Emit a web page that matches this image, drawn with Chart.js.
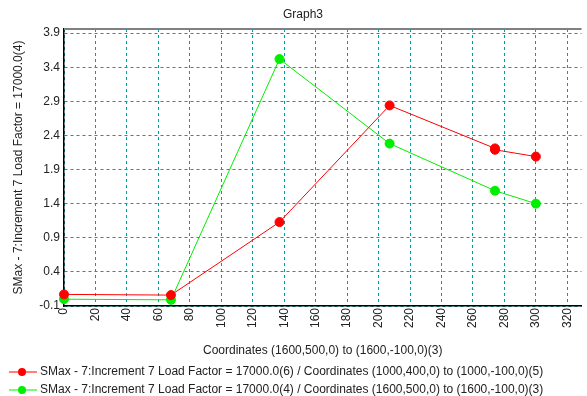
<!DOCTYPE html>
<html>
<head>
<meta charset="utf-8">
<script src="https://cdn.jsdelivr.net/npm/chart.js@4.4.1/dist/chart.umd.min.js"></script>
<style>
  html, body { margin: 0; padding: 0; background: #fff; }
  #wrap { width: 587px; height: 396px; position: relative; }
</style>
</head>
<body>
<div id="wrap"><canvas id="graph"></canvas></div>
<script>
// Data
const redX = [0, 68, 137, 207, 274, 274, 300];
const redY = [0.07, 0.06, 1.13, 2.84, 2.21, 2.19, 2.09];
const greenX = [0, 68, 137, 207, 274, 300];
const greenY = [0.0, -0.01, 3.52, 2.28, 1.59, 1.40];
const xTicks = [0, 20, 40, 60, 80, 100, 120, 140, 160, 180, 200, 220, 240, 260, 280, 300, 320];
const yTicks = [-0.1, 0.4, 0.9, 1.4, 1.9, 2.4, 2.9, 3.4, 3.9];
const seriesNames = [
    'SMax - 7:Increment 7 Load Factor = 17000.0(6) / Coordinates (1000,400,0) to (1000,-100,0)(5)',
    'SMax - 7:Increment 7 Load Factor = 17000.0(4) / Coordinates (1600,500,0) to (1600,-100,0)(3)'
];
const seriesColors = ['#ff0000', '#00ee00'];
const chartTitle = 'Graph3';
const xTitle = 'Coordinates (1600,500,0) to (1600,-100,0)(3)';
const yTitle = 'SMax - 7:Increment 7 Load Factor = 17000.0(4)';
const gridColor = '#00a0a0';

function toPoints(xs, ys) {
    return xs.map((x, i) => ({ x: x, y: ys[i] }));
}

Chart.defaults.font.family = 'Arial, "Liberation Sans", sans-serif';
Chart.defaults.font.size = 12;
Chart.defaults.color = '#222';

// Title, top border and legend drawn on the canvas
const extrasPlugin = {
    id: 'extras',
    afterDraw(chart) {
        const ctx = chart.ctx;
        const area = chart.chartArea;
        ctx.save();
        // top border
        ctx.strokeStyle = '#808080';
        ctx.lineWidth = 2;
        ctx.beginPath();
        ctx.moveTo(area.left, area.top);
        ctx.lineTo(area.right, area.top);
        ctx.stroke();
        // title
        ctx.fillStyle = '#222';
        ctx.font = '12px Arial, "Liberation Sans", sans-serif';
        ctx.textAlign = 'center';
        ctx.textBaseline = 'middle';
        ctx.fillText(chartTitle, 303, 15);
        // legend
        ctx.textAlign = 'left';
        seriesNames.forEach((name, i) => {
            const y = 372 + i * 18;
            ctx.strokeStyle = seriesColors[i];
            ctx.lineWidth = 1;
            ctx.beginPath();
            ctx.moveTo(9, y);
            ctx.lineTo(37, y);
            ctx.stroke();
            ctx.fillStyle = seriesColors[i];
            ctx.beginPath();
            ctx.arc(22, y, 4, 0, Math.PI * 2);
            ctx.fill();
            ctx.fillStyle = '#222';
            ctx.fillText(name, 40, y);
        });
        ctx.restore();
    }
};

const chart = new Chart(document.getElementById('graph'), {
    type: 'scatter',
    data: {
        datasets: [
            {
                label: seriesNames[0],
                data: toPoints(redX, redY),
                showLine: true,
                borderColor: seriesColors[0],
                backgroundColor: seriesColors[0],
                borderWidth: 1,
                pointRadius: 4.5,
                pointHoverRadius: 4.5
            },
            {
                label: seriesNames[1],
                data: toPoints(greenX, greenY),
                showLine: true,
                borderColor: seriesColors[1],
                backgroundColor: seriesColors[1],
                borderWidth: 1,
                pointRadius: 4.5,
                pointHoverRadius: 4.5
            }
        ]
    },
    options: {
        responsive: true,
        maintainAspectRatio: false,
        animation: false,
        clip: false,
        layout: {
            padding: { top: 29, left: 0, right: 0, bottom: 38 }
        },
        scales: {
            x: {
                type: 'linear',
                min: 0,
                max: 329,
                afterBuildTicks: (scale) => {
                    scale.ticks = xTicks.map(v => ({ value: v }));
                },
                afterFit: (scale) => { scale.height = 52; },
                ticks: {
                    minRotation: 90,
                    maxRotation: 90,
                    padding: 2,
                    color: '#222'
                },
                grid: {
                    color: gridColor,
                    lineWidth: 1,
                    tickLength: 0,
                    drawTicks: false
                },
                border: {
                    display: true,
                    color: '#000',
                    width: 1.5,
                    dash: [3, 3]
                },
                title: {
                    display: true,
                    text: xTitle,
                    color: '#222',
                    padding: { top: 4, bottom: 0 }
                }
            },
            y: {
                type: 'linear',
                min: -0.1,
                max: 3.96,
                afterBuildTicks: (scale) => {
                    scale.ticks = yTicks.map(v => ({ value: v }));
                },
                afterFit: (scale) => { scale.width = 64; },
                ticks: {
                    padding: 4,
                    color: '#222',
                    callback: (v) => v.toFixed(1)
                },
                grid: {
                    color: gridColor,
                    lineWidth: 1,
                    drawTicks: false
                },
                border: {
                    display: true,
                    color: '#000',
                    width: 1.5,
                    dash: [3, 3]
                },
                title: {
                    display: true,
                    text: yTitle,
                    color: '#222',
                    padding: { top: 11, bottom: 0 }
                }
            }
        },
        plugins: {
            legend: { display: false },
            title: { display: false },
            tooltip: { enabled: false }
        }
    },
    plugins: [extrasPlugin]
});
</script>
</body>
</html>
